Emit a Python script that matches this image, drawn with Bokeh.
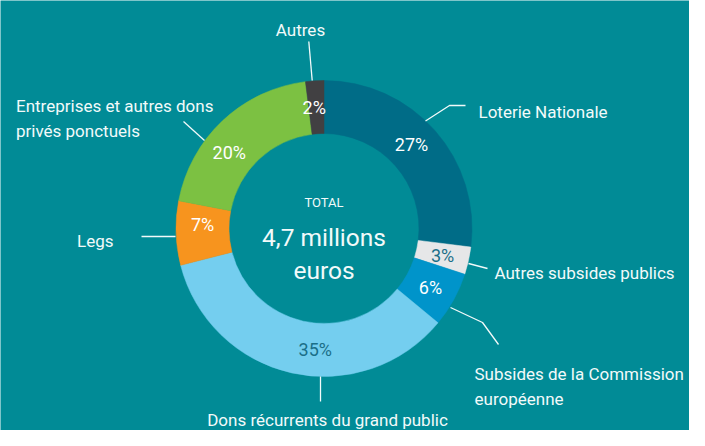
import numpy as np
from bokeh.plotting import figure
from bokeh.models import Range1d, ColumnDataSource
from bokeh.core.properties import value
from bokeh.embed import file_html
from bokeh.resources import INLINE

# ---------------- data ----------------
categories = ["Loterie Nationale", "Autres subsides publics",
              "Subsides de la Commission européenne", "Dons récurrents du grand public",
              "Legs", "Entreprises et autres dons privés ponctuels", "Autres"]
shares = [27, 3, 6, 35, 7, 20, 2]
pct_labels = ["27%", "3%", "6%", "35%", "7%", "20%", "2%"]
total_title = "TOTAL"
total_value = "4,7 millions"
total_unit = "euros"

# ---------------- style ----------------
BG = "#018B96"
slice_colors = ["#006C87", "#E6E7E8", "#0094CA", "#74CEEF", "#F7941E", "#7CC142", "#414042"]
pct_colors = ["#FFFFFF", "#1B6F88", "#FFFFFF", "#1B6F88", "#FFFFFF", "#FFFFFF", "#FFFFFF"]
label_angle_shift = [-2.5, 0, 0, -8.5, 3.5, -8, -1]   # degrees, layout nudge
TXT = "#F2FAFA"
FONT = "Roboto"

W, H = 689, 430
def Y(ref_y):          # reference pixel row -> data y
    return 446 - ref_y

CX, CY = 323.5, Y(228)
R_IN, R_OUT, R_LAB = 95, 148, 121.5

p = figure(width=W, height=H, x_range=Range1d(0, W), y_range=Range1d(446 - H, 446),
           output_backend="svg", toolbar_location=None, min_border=0,
           x_axis_type=None, y_axis_type=None)
p.grid.visible = False
p.outline_line_color = None
p.background_fill_color = BG
p.border_fill_color = BG

# ---------------- donut ----------------
vals = np.array(shares, dtype=float)
frac = vals / vals.sum()
cum_end = np.cumsum(frac)
cum_start = cum_end - frac
start = np.pi / 2 - 2 * np.pi * cum_start
end = np.pi / 2 - 2 * np.pi * cum_end
src = ColumnDataSource(dict(cat=categories, start=start, end=end, color=slice_colors))
p.annular_wedge(x=CX, y=CY, inner_radius=R_IN, outer_radius=R_OUT,
                start_angle="start", end_angle="end", direction="clock",
                fill_color="color", line_color="color", line_width=0.5, source=src)

mid_deg = 360 * (cum_start + frac / 2) + np.array(label_angle_shift)
mid = np.radians(mid_deg)
lsrc = ColumnDataSource(dict(x=CX + R_LAB * np.sin(mid), y=CY + R_LAB * np.cos(mid),
                             t=pct_labels, c=pct_colors))
p.text(x="x", y="y", text="t", text_color="c", source=lsrc, text_font=value(FONT),
       text_font_size="18px", text_align="center", text_baseline="middle")

# ---------------- centre text ----------------
p.text(x=[CX], y=[Y(201.5)], text=[total_title], text_font=value(FONT), text_color=TXT,
       text_font_size="13px", text_align="center", text_baseline="alphabetic")
p.text(x=[CX], y=[Y(236.5)], text=[total_value], text_font=value(FONT), text_color=TXT,
       text_font_size="24.5px", text_align="center", text_baseline="alphabetic")
p.text(x=[CX], y=[Y(270)], text=[total_unit], text_font=value(FONT), text_color=TXT,
       text_font_size="24.5px", text_align="center", text_baseline="alphabetic")

# ---------------- leader lines (reference pixel coords) ----------------
leaders = [
    [(425, 120.5), (449, 105), (465, 105)],          # Loterie
    [(468, 263), (487, 268)],                        # Autres subsides
    [(450, 307), (482, 322), (498, 344)],            # Commission
    [(320, 376), (320, 401)],                        # Dons
    [(141, 236), (175, 236)],                        # Legs
    [(183, 121), (204, 140)],                        # Entreprises
    [(308.3, 41), (311.7, 80)],                      # Autres
]
p.multi_line(xs=[[pt[0] for pt in l] for l in leaders],
             ys=[[Y(pt[1]) for pt in l] for l in leaders],
             line_color=TXT, line_width=1.3)

# ---------------- callout texts ----------------
callouts = [
    (["Loterie Nationale"], 478, [111.5], "left"),
    (["Autres subsides publics"], 494, [272], "left"),
    (["Subsides de la Commission", "européenne"], 474, [373, 398], "left"),
    (["Dons récurrents du grand public"], 327, [419], "center"),
    (["Legs"], 113, [240], "right"),
    (["Entreprises et autres dons", "privés ponctuels"], 15.5, [105, 130], "left"),
    (["Autres"], 300, [29], "center"),
]
for lines, x, ys, align in callouts:
    p.text(x=[x] * len(lines), y=[Y(v) for v in ys], text=lines, text_font=value(FONT),
           text_color=TXT, text_font_size="17px", text_align=align, text_baseline="alphabetic")

open("out.html", "w").write(file_html(p, INLINE))
